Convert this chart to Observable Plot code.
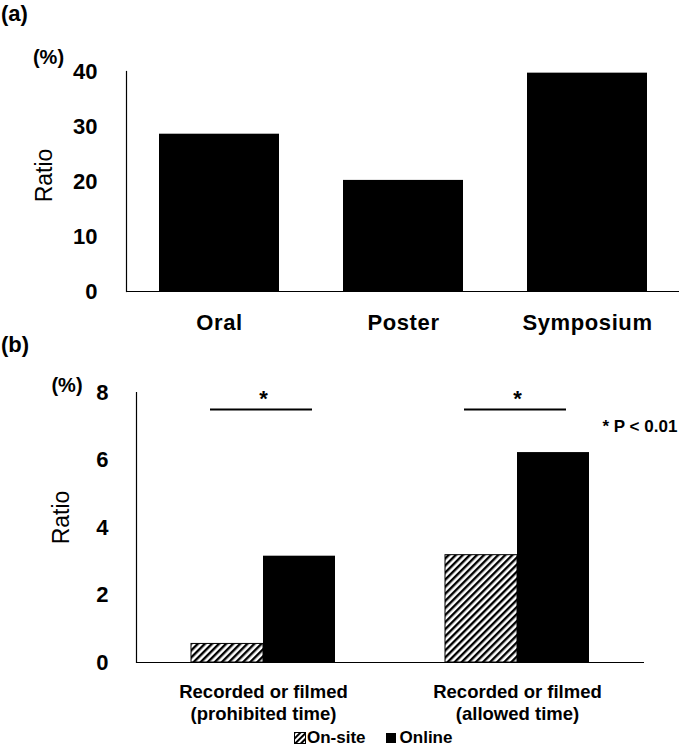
<!DOCTYPE html>
<html><head><meta charset="utf-8">
<script src="https://cdn.jsdelivr.net/npm/d3@7"></script>
<script src="https://cdn.jsdelivr.net/npm/@observablehq/plot@0.6"></script>
<style>
body{margin:0;background:#fff;font-family:"Liberation Sans",Arial,sans-serif;}
#wrap{position:relative;width:685px;height:749px;overflow:hidden;background:#fff;}
.panel{position:absolute;left:0;}
.tag{position:absolute;left:1px;font-weight:bold;font-size:22px;line-height:26px;z-index:2;}
#legend{position:absolute;left:294px;top:729px;font-size:17px;font-weight:bold;display:flex;align-items:center;white-space:nowrap;line-height:18px;height:18px;z-index:2;}
</style></head><body>
<div id="wrap">
  <div id="pa" class="panel" style="top:0"></div>
  <div id="pb" class="panel" style="top:345px"></div>
  <div class="tag" style="top:1px">(a)</div>
  <div class="tag" style="top:332px">(b)</div>
  <div id="legend">
    <svg width="12" height="12"><defs><pattern id="hatchL" patternUnits="userSpaceOnUse" width="4" height="4" patternTransform="rotate(45)"><rect width="4" height="4" fill="white"/><rect width="2" height="4" fill="black"/></pattern></defs><rect x="0.5" y="0.5" width="11" height="11" fill="url(#hatchL)" stroke="black"/></svg><span style="margin-left:1px">On-site</span>
    <svg style="margin-left:20px" width="10" height="10"><rect width="10" height="10" fill="black"/></svg><span style="margin-left:4px">Online</span>
  </div>
</div>
<script>
// ---- Panel (a) data ----
const catsA = ["Oral", "Poster", "Symposium"];
const ratioA = [28.6, 20.2, 39.7];
const ticksA = [0, 10, 20, 30, 40];

// ---- Panel (b) data ----
const groupsB = ["Recorded or filmed\n(prohibited time)", "Recorded or filmed\n(allowed time)"];
const seriesB = ["On-site", "Online"];
const onSiteB = [0.55, 3.18];
const onlineB = [3.15, 6.22];
const ticksB = [0, 2, 4, 6, 8];
const sigLevel = [7.5];
const starLevel = [7.8];
const note = [{text: "* P < 0.01", y: 7.0, g: groupsB[1]}];

const FONT = '"Liberation Sans", Arial, sans-serif';

const dataA = catsA.map((c, i) => ({cat: c, v: ratioA[i]}));
const plotA = Plot.plot({
  width: 685, height: 345,
  marginTop: 71, marginBottom: 54, marginLeft: 126, marginRight: 6,
  style: {fontFamily: FONT, color: "black", background: "transparent"},
  x: {domain: catsA, paddingInner: 0.35, paddingOuter: 0.175, axis: null},
  y: {domain: [0, 40], axis: null},
  marks: [
    Plot.barY(dataA, {x: "cat", y: "v", fill: "black"}),
    Plot.ruleY([0], {stroke: "black", strokeWidth: 1.2}),
    Plot.frame({anchor: "left", stroke: "black", strokeWidth: 1.2}),
    Plot.axisY({ticks: ticksA, tickSize: 0, tickPadding: 29, fontSize: 22, fontWeight: "bold", label: null}),
    Plot.axisX({tickSize: 0, tickPadding: 23, fontSize: 22, fontWeight: "bold", label: null}),
    Plot.text(["Ratio"], {frameAnchor: "left", textAnchor: "middle", lineAnchor: "middle", dx: -82, dy: -6, rotate: -90, fontSize: 23}),
    Plot.text(["(%)"], {frameAnchor: "top-left", textAnchor: "middle", lineAnchor: "middle", dx: -78, dy: -14, fontSize: 20, fontWeight: "bold"})
  ]
});
plotA.querySelectorAll('g[aria-label="x-axis tick label"]').forEach(g => g.style.letterSpacing = "0.6px");
document.getElementById("pa").appendChild(plotA);

const dataB = [];
groupsB.forEach((g, i) => {
  dataB.push({g, s: seriesB[0], v: onSiteB[i]});
  dataB.push({g, s: seriesB[1], v: onlineB[i]});
});
const plotB = Plot.plot({
  width: 685, height: 390,
  marginTop: 47, marginBottom: 73, marginLeft: 136, marginRight: 41,
  style: {fontFamily: FONT, color: "black", background: "transparent"},
  fx: {domain: groupsB, padding: 0, label: null, axis: null},
  x: {domain: seriesB, paddingInner: 0, paddingOuter: 0.74, axis: null},
  y: {domain: [0, 8], axis: null},
  marks: [
    Plot.barY(dataB.filter(d => d.s === seriesB[0]), {fx: "g", x: "s", y: "v", fill: "url(#hatchB)", stroke: "black", strokeWidth: 1}),
    Plot.barY(dataB.filter(d => d.s === seriesB[1]), {fx: "g", x: "s", y: "v", fill: "black"}),
    Plot.ruleY([0], {stroke: "black", strokeWidth: 1.2}),
    Plot.frame({anchor: "left", facetAnchor: "left", stroke: "black", strokeWidth: 1.2}),
    Plot.axisY({ticks: ticksB, tickSize: 0, tickPadding: 28, fontSize: 22, fontWeight: "bold", label: null}),
    Plot.axisFx({anchor: "bottom", tickSize: 0, tickPadding: 19, fontSize: 18.5, fontWeight: "bold", lineHeight: 1.22, label: null}),
    Plot.ruleY(sigLevel, {insetLeft: 74, insetRight: 78, stroke: "black", strokeWidth: 2}),
    Plot.text(starLevel, {y: d => d, text: () => "*", fontSize: 22, fontWeight: "bold"}),
    Plot.text(note, {fx: "g", y: "y", text: "text", frameAnchor: "right", textAnchor: "start", dx: -42, fontSize: 17, fontWeight: "bold"}),
    Plot.text([groupsB[0]], {fx: d => d, text: () => "Ratio", frameAnchor: "left", textAnchor: "middle", lineAnchor: "middle", dx: -75, dy: -10, rotate: -90, fontSize: 23}),
    Plot.text([groupsB[0]], {fx: d => d, text: () => "(%)", frameAnchor: "top-left", textAnchor: "middle", lineAnchor: "middle", dx: -69.5, dy: -7, fontSize: 20, fontWeight: "bold"})
  ]
});
const ns = "http://www.w3.org/2000/svg";
const defs = document.createElementNS(ns, "defs");
defs.innerHTML = '<pattern id="hatchB" patternUnits="userSpaceOnUse" width="5" height="5" patternTransform="rotate(45)"><rect width="5" height="5" fill="white"/><rect x="0" y="0" width="2.4" height="5" fill="black"/></pattern>';
plotB.insertBefore(defs, plotB.firstChild);
document.getElementById("pb").appendChild(plotB);
</script>
</body></html>
